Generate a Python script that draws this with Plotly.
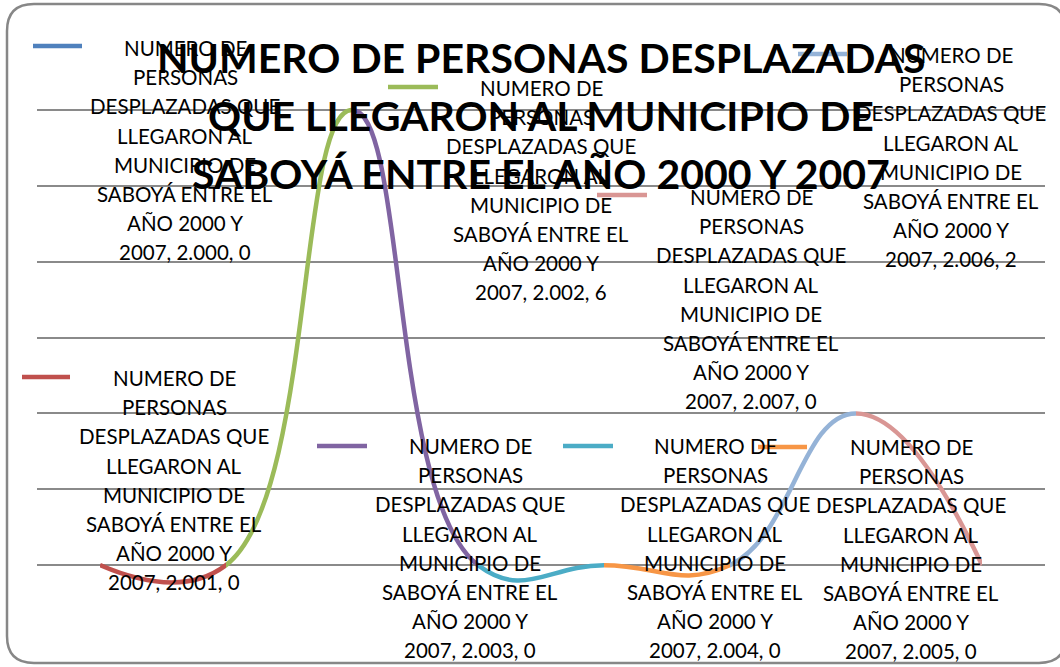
import textwrap
import plotly.graph_objects as go

# ---------------- data ----------------
SERIES_NAME = ("NUMERO DE PERSONAS DESPLAZADAS QUE LLEGARON AL MUNICIPIO DE "
               "SABOYÁ ENTRE EL AÑO 2000 Y 2007")
TITLE = SERIES_NAME
CATEGORIES = ["2.000", "2.001", "2.002", "2.003", "2.004", "2.005", "2.006", "2.007"]
VALUES = [0, 0, 6, 0, 0, 0, 2, 0]
POINT_COLORS = ["#4F81BD", "#C0504D", "#9BBB59", "#8064A2",
                "#4BACC6", "#F79646", "#95B3D7", "#D99694"]
Y_MIN, Y_MAX = -1, 7

# ---------------- layout constants ----------------
W, H = 1060, 667
ML, MR, MT, MB = 37, 15, 34, 26
PW, PH = W - ML - MR, H - MT - MB
FONT = "Lato"


def px(x):
    return (x - ML) / PW


def py(y):
    return (H - MB - y) / PH


# per data label: (text centre x, first line y, key x0, key x1, key y) in pixels
LABEL_POS = [(185, 48, 33, 82, 46), (174, 378, 22, 70, 377), (541, 88, 388, 438, 87),
             (470, 446, 317, 367, 446), (715, 446, 563, 613, 446), (911, 447, 758, 807, 447),
             (951, 55, 798, 847, 54), (751, 197, 597, 647, 195)]
LINE_STEP = 29.2
TITLE_X, TITLE_Y0, TITLE_STEP = 541, 57, 58.3

n = len(CATEGORIES)
fig = go.Figure()

# invisible base trace for the main subplot
fig.add_trace(go.Scatter(x=CATEGORIES, y=VALUES, mode="lines", line=dict(width=0),
                         hoverinfo="skip", showlegend=False, opacity=0))

layout_axes = {}
for i in range(n - 1):
    k = i + 2
    fig.add_trace(go.Scatter(
        x=CATEGORIES, y=VALUES, mode="lines",
        line=dict(color=POINT_COLORS[i + 1], width=4.5, shape="spline",
                  smoothing=1.3, simplify=False),
        xaxis=f"x{k}", yaxis="y", hoverinfo="skip", showlegend=False))
    layout_axes[f"xaxis{k}"] = dict(
        type="category", categoryorder="array", categoryarray=CATEGORIES,
        domain=[(i + 0.5) / n, (i + 1.5) / n], range=[i, i + 1],
        visible=False, anchor="y", fixedrange=True)

annotations = []
for j, line in enumerate(textwrap.wrap(TITLE, 31)):
    annotations.append(dict(
        x=px(TITLE_X), y=py(TITLE_Y0 + j * TITLE_STEP), xref="paper", yref="paper",
        text=f"<b>{line}</b>", showarrow=False, xanchor="center", yanchor="middle",
        font=dict(family=FONT, size=41, color="#000000")))

shapes = []
for i in range(n):
    cx, y0, kx0, kx1, ky = LABEL_POS[i]
    label = f"{SERIES_NAME}, {CATEGORIES[i]}, {VALUES[i]}"
    for j, line in enumerate(textwrap.wrap(label, 15)):
        annotations.append(dict(
            x=px(cx), y=py(y0 + j * LINE_STEP), xref="paper", yref="paper",
            text=line, showarrow=False, xanchor="center", yanchor="middle",
            font=dict(family=FONT, size=20.5, color="#000000")))
    shapes.append(dict(type="line", xref="paper", yref="paper",
                       x0=px(kx0), x1=px(kx1), y0=py(ky), y1=py(ky),
                       line=dict(color=POINT_COLORS[i], width=4.5)))

# chart-area rounded border
bx0, bx1, by0, by1, r = 7, 1066, 4, 663, 27
rx, ry = r / PW, r / PH
X0, X1, YT, YB = px(bx0), px(bx1), py(by0), py(by1)
path = (f"M {X0 + rx},{YT} L {X1 - rx},{YT} Q {X1},{YT} {X1},{YT - ry} "
        f"L {X1},{YB + ry} Q {X1},{YB} {X1 - rx},{YB} "
        f"L {X0 + rx},{YB} Q {X0},{YB} {X0},{YB + ry} "
        f"L {X0},{YT - ry} Q {X0},{YT} {X0 + rx},{YT} Z")
shapes.append(dict(type="path", xref="paper", yref="paper", path=path,
                   line=dict(color="#878787", width=2.5), layer="below"))

fig.update_layout(
    width=W, height=H, margin=dict(l=ML, r=MR, t=MT, b=MB, pad=0),
    paper_bgcolor="white", plot_bgcolor="rgba(0,0,0,0)",
    showlegend=False,
    xaxis=dict(type="category", categoryorder="array", categoryarray=CATEGORIES,
               range=[-0.5, n - 0.5], visible=False, domain=[0, 1], fixedrange=True),
    yaxis=dict(range=[Y_MIN, Y_MAX], tick0=0, dtick=1, showgrid=True,
               gridcolor="#8a8a8a", gridwidth=1.5, zeroline=False,
               showticklabels=False, ticks="", showline=False, anchor="x",
               fixedrange=True),
    annotations=annotations, shapes=shapes,
    **layout_axes)

fig.write_html("out.html")
